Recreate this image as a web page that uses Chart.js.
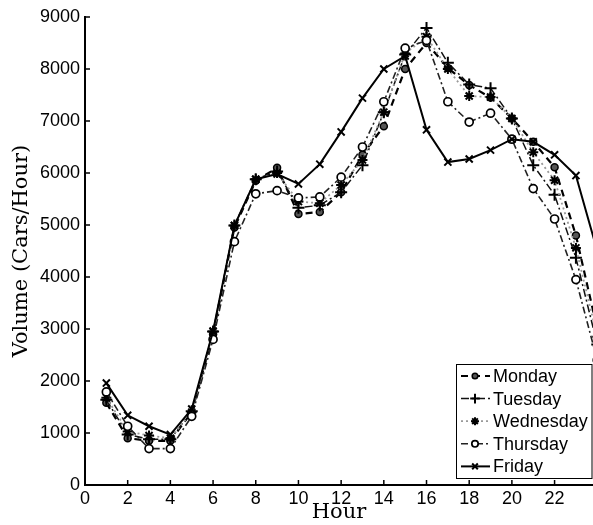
<!DOCTYPE html>
<html>
<head>
<meta charset="utf-8">
<script src="https://cdn.jsdelivr.net/npm/chart.js@4.4.0/dist/chart.umd.min.js"></script>
<style>
  html, body { margin: 0; padding: 0; background: #fff; }
  #wrap { width: 593px; height: 525px; }
</style>
</head>
<body>
<div id="wrap"><canvas id="volumeChart" width="593" height="525"></canvas></div>
<script>
// hourly traffic volume (cars/hour) per weekday
const hours = [1, 2, 3, 4, 5, 6, 7, 8, 9, 10, 11, 12, 13, 14, 15, 16, 17, 18, 19, 20, 21, 22, 23, 24];
const monday    = [1580, 900, 850, 850, 1400, 2900, 4950, 5850, 6100, 5210, 5250, 5630, 6350, 6900, 8000, 8500, 8020, 7690, 7450, 7050, 6600, 6110, 4800, 3000];
const tuesday   = [1640, 970, 880, 880, 1420, 2950, 4990, 5880, 6030, 5330, 5380, 5630, 6150, 7170, 8280, 8790, 8120, 7700, 7630, 7050, 6150, 5580, 4370, 2700];
const wednesday = [1680, 1030, 950, 900, 1400, 2950, 4990, 5880, 6000, 5450, 5420, 5770, 6250, 7170, 8300, 8620, 8000, 7480, 7460, 7050, 6400, 5860, 4560, 2850];
const thursday  = [1790, 1130, 700, 700, 1320, 2800, 4680, 5600, 5660, 5520, 5540, 5920, 6500, 7370, 8400, 8550, 7370, 6980, 7150, 6650, 5700, 5115, 3950, 2400];
const friday    = [1960, 1340, 1130, 970, 1460, 2960, 4990, 5880, 5980, 5790, 6170, 6790, 7440, 8000, 8250, 6830, 6210, 6270, 6440, 6650, 6600, 6350, 5950, 4500];

const xTicks = [0, 2, 4, 6, 8, 10, 12, 14, 16, 18, 20, 22];
const yTicks = [0, 1000, 2000, 3000, 4000, 5000, 6000, 7000, 8000, 9000];

const toPoints = arr => arr.map((v, i) => ({ x: hours[i], y: v }));

const series = [
  { label: 'Monday', data: monday, color: '#000', width: 2.2, dash: [7, 5],
    point: 'circle', radius: 3.5, fill: '#555', pointWidth: 1.5 },
  { label: 'Tuesday', data: tuesday, color: '#111', width: 1.5, dash: [8, 3, 2, 3],
    point: 'cross', radius: 6, fill: '#000', pointWidth: 2 },
  { label: 'Wednesday', data: wednesday, color: '#999', width: 1.8, dash: [2, 3],
    point: 'star', radius: 5, fill: '#000', pointWidth: 2 },
  { label: 'Thursday', data: thursday, color: '#222', width: 1.6, dash: [7, 3, 2, 3],
    point: 'circle', radius: 4, fill: '#fff', pointWidth: 1.7 },
  { label: 'Friday', data: friday, color: '#000', width: 2, dash: [],
    point: 'crossRot', radius: 5, fill: '#000', pointWidth: 2 }
];

const tickFont = { family: '"Liberation Sans", Arial, sans-serif', size: 18 };
const titleFont = { family: '"DejaVu Serif", "Liberation Serif", serif', size: 21 };

// tick marks drawn on the inside of the axes
const innerTicks = {
  id: 'innerTicks',
  beforeDatasetsDraw(chart) {
    const { ctx, chartArea, scales } = chart;
    ctx.save();
    ctx.strokeStyle = '#000';
    ctx.lineWidth = 1.5;
    ctx.beginPath();
    scales.x.ticks.forEach((t, i) => {
      const px = scales.x.getPixelForTick(i);
      ctx.moveTo(px, chartArea.bottom);
      ctx.lineTo(px, chartArea.bottom - 5);
    });
    scales.y.ticks.forEach((t, i) => {
      const py = scales.y.getPixelForTick(i);
      ctx.moveTo(chartArea.left, py);
      ctx.lineTo(chartArea.left + 5, py);
    });
    ctx.stroke();
    ctx.restore();
  }
};

// boxed legend in the lower right corner of the plot
const boxLegend = {
  id: 'boxLegend',
  afterDraw(chart) {
    const { ctx, chartArea } = chart;
    const left = 456, top = 364, right = chartArea.right - 0.5, rowH = 22.6;
    const bottom = top + rowH * series.length + 2;
    ctx.save();
    ctx.fillStyle = '#fff';
    ctx.fillRect(left, top, right - left, bottom - top);
    ctx.strokeStyle = '#000';
    ctx.lineWidth = 1;
    ctx.strokeRect(left + 0.5, top + 0.5, right - left - 1, bottom - top - 1);
    ctx.font = '18px "Liberation Sans", Arial, sans-serif';
    ctx.textBaseline = 'middle';
    series.forEach((s, i) => {
      const y = top + 12 + i * rowH;
      ctx.strokeStyle = s.color;
      ctx.lineWidth = s.width;
      ctx.setLineDash(s.dash);
      ctx.beginPath();
      ctx.moveTo(left + 5, y);
      ctx.lineTo(left + 34, y);
      ctx.stroke();
      ctx.setLineDash([]);
      ctx.fillStyle = s.fill;
      ctx.strokeStyle = '#000';
      ctx.lineWidth = s.pointWidth;
      Chart.helpers.drawPoint(ctx, {
        pointStyle: s.point, radius: s.radius * 0.8, rotation: 0, borderWidth: s.pointWidth
      }, left + 19, y);
      ctx.fillStyle = '#000';
      ctx.fillText(s.label, left + 37, y + 1);
    });
    ctx.restore();
  }
};

new Chart(document.getElementById('volumeChart'), {
  type: 'line',
  data: {
    datasets: series.map((s, i) => ({
      label: s.label,
      data: toPoints(s.data),
      borderColor: s.color,
      borderWidth: s.width,
      borderDash: s.dash,
      pointStyle: s.point,
      pointRadius: s.radius,
      pointBackgroundColor: s.fill,
      pointBorderColor: '#000',
      pointBorderWidth: s.pointWidth,
      tension: 0,
      fill: false,
      order: series.length - i
    }))
  },
  options: {
    responsive: false,
    animation: false,
    layout: { autoPadding: false, padding: { top: 17, right: 0, left: 0, bottom: 0 } },
    plugins: {
      legend: { display: false },
      tooltip: { enabled: false }
    },
    scales: {
      x: {
        type: 'linear',
        min: 0,
        max: 23.8,
        grid: { display: false, drawTicks: false, tickLength: 0 },
        border: { display: true, color: '#000', width: 2 },
        afterBuildTicks: scale => { scale.ticks = xTicks.map(v => ({ value: v })); },
        afterFit: scale => {
          scale.height = 40;
          scale.paddingLeft = 0;
          scale.paddingRight = 0;
        },
        ticks: {
          color: '#000',
          padding: 3,
          maxRotation: 0,
          font: tickFont
        },
        title: {
          display: true,
          text: 'Hour',
          color: '#000',
          padding: { top: 0, bottom: 0 },
          font: titleFont
        }
      },
      y: {
        min: 0,
        max: 9000,
        grid: { display: false, drawTicks: false, tickLength: 0 },
        border: { display: true, color: '#000', width: 2 },
        afterBuildTicks: scale => { scale.ticks = yTicks.map(v => ({ value: v })); },
        afterFit: scale => { scale.width = 85; },
        ticks: {
          color: '#000',
          padding: 5,
          font: tickFont,
          callback: v => String(v)
        },
        title: {
          display: true,
          text: 'Volume (Cars/Hour)',
          color: '#000',
          padding: { top: 9, bottom: 0 },
          font: titleFont
        }
      }
    }
  },
  plugins: [innerTicks, boxLegend]
});
</script>
</body>
</html>
